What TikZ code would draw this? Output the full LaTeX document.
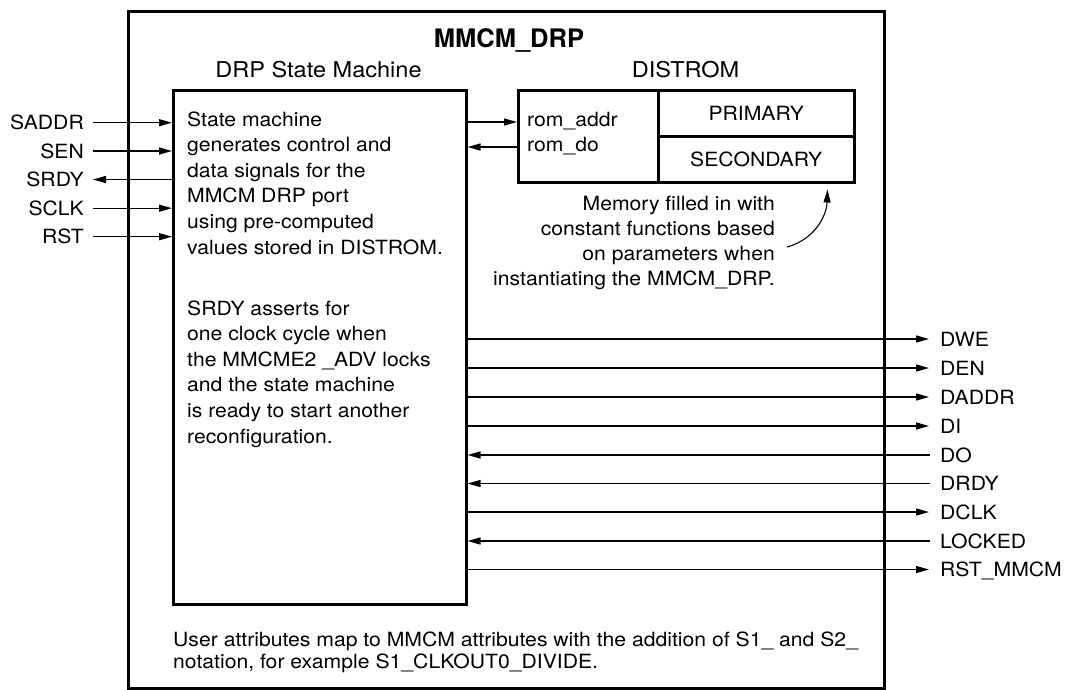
\documentclass[tikz,border=0pt]{standalone}
\usepackage{fontspec}
\setmainfont{TeX Gyre Heros}[FakeStretch=1.08]
\newfontfamily\titlefont{TeX Gyre Heros}
\usetikzlibrary{arrows.meta}
\begin{document}
\begin{tikzpicture}[x=1pt,y=-1pt,
  body/.style={font=\fontsize{19.6}{25.6}\selectfont, inner sep=0pt},
  head/.style={font=\fontsize{21.8}{26}\selectfont, inner sep=0pt},
  sig/.style={body, text height=14pt, text depth=0pt},
  frame/.style={draw, line width=2.5pt, inner sep=0pt},
  arr/.style={line width=1.3pt, -{Triangle[length=13pt,width=7pt]}},
  ]
\useasboundingbox (0,0) rectangle (1068,689);

% outer frame and title
\node[frame, line width=2.9pt, anchor=north west, minimum width=756pt, minimum height=677pt] (outer) at (127,10) {};
\node[font=\titlefont\bfseries\fontsize{25.5}{30}\selectfont, anchor=base, inner sep=0pt] (title) at (509,47) {MMCM\_DRP};

% headings
\node[head, anchor=base] (smhead) at (318.5,77) {DRP State Machine};
\node[head, anchor=base] (romhead) at (685.5,77) {DISTROM};

% state machine box
\node[frame, anchor=north west, minimum width=293pt, minimum height=514pt] (sm) at (172,89) {};
\node[body, anchor=base west, align=left] (smtext) at (187,443) {State machine\\generates control and\\data signals for the\\MMCM DRP port\\using pre-computed\\values stored in DISTROM.\\[35.4pt]SRDY asserts for\\one clock cycle when\\the MMCME2 \_ADV locks\\and the state machine\\is ready to start another\\reconfiguration.};

% DISTROM box
\node[frame, anchor=north west, minimum width=140pt, minimum height=92pt] (ports) at (517,89) {};
\node[frame, body, anchor=north west, minimum width=196pt, minimum height=46pt] (primary) at (657,89) {PRIMARY};
\node[frame, body, anchor=north west, minimum width=196pt, minimum height=46pt] (secondary) at (657,135) {SECONDARY};
\node[body, anchor=base west] (romaddr) at (527,126.7) {rom\_addr};
\node[body, anchor=base west] (romdo) at (527,151.7) {rom\_do};
\coordinate (ra) at ([yshift=4.7pt]romaddr.base west);
\coordinate (rd) at ([yshift=4.7pt]romdo.base west);
\draw[arr] (sm.east |- ra) -- (ports.west |- ra);
\draw[arr] (ports.west |- rd) -- (sm.east |- rd);

% memory note
\node[body, font=\fontsize{19.6}{25}\selectfont, anchor=base east, align=right] (memo) at (775,285) {Memory filled in with\\constant functions based\\on parameters when\\instantiating the MMCM\_DRP.};
\coordinate (mstart) at (787,247);
\draw[arr, line width=1.1pt] (mstart) to[out=15,in=-92] ([xshift=-28pt,yshift=-6pt]secondary.south east);

% bottom note
\node[body, font=\fontsize{19.6}{22}\selectfont, anchor=base west, align=left] (note) at (173,668) {User attributes map to MMCM attributes with the addition of S1\_ and S2\_\\notation, for example S1\_CLKOUT0\_DIVIDE.};

% left signals
\node[sig, anchor=east] (saddr) at (84,122.7) {SADDR};
\node[sig, anchor=east] (sen) at (84,151) {SEN};
\node[sig, anchor=east] (srdy) at (84,179.5) {SRDY};
\node[sig, anchor=east] (sclk) at (84,208.2) {SCLK};
\node[sig, anchor=east] (rst) at (84,236.7) {RST};
\draw[arr] ([xshift=9pt]saddr.east) -- (saddr.east -| sm.west);
\draw[arr] ([xshift=9pt]sen.east) -- (sen.east -| sm.west);
\draw[arr] (srdy.east -| sm.west) -- ([xshift=9pt]srdy.east);
\draw[arr] ([xshift=9pt]sclk.east) -- (sclk.east -| sm.west);
\draw[arr] ([xshift=9pt]rst.east) -- (rst.east -| sm.west);

% right signals
\node[sig, anchor=west] (dwe) at (940,339) {DWE};
\node[sig, anchor=west] (den) at (940,368) {DEN};
\node[sig, anchor=west] (daddr) at (940,397) {DADDR};
\node[sig, anchor=west] (di) at (940,426) {DI};
\node[sig, anchor=west] (do) at (940,455) {DO};
\node[sig, anchor=west] (drdy) at (940,483.5) {DRDY};
\node[sig, anchor=west] (dclk) at (940,512) {DCLK};
\node[sig, anchor=west] (locked) at (940,541) {LOCKED};
\node[sig, anchor=west] (rstm) at (940,569.5) {RST\_MMCM};
\draw[arr] (dwe.west -| sm.east) -- ([xshift=-11pt]dwe.west);
\draw[arr] (den.west -| sm.east) -- ([xshift=-11pt]den.west);
\draw[arr] (daddr.west -| sm.east) -- ([xshift=-11pt]daddr.west);
\draw[arr] (di.west -| sm.east) -- ([xshift=-11pt]di.west);
\draw[arr] ([xshift=-10pt]do.west) -- (do.west -| sm.east);
\draw[arr] ([xshift=-10pt]drdy.west) -- (drdy.west -| sm.east);
\draw[arr] (dclk.west -| sm.east) -- ([xshift=-11pt]dclk.west);
\draw[arr] ([xshift=-10pt]locked.west) -- (locked.west -| sm.east);
\draw[arr] (rstm.west -| sm.east) -- ([xshift=-11pt]rstm.west);
\end{tikzpicture}
\end{document}
